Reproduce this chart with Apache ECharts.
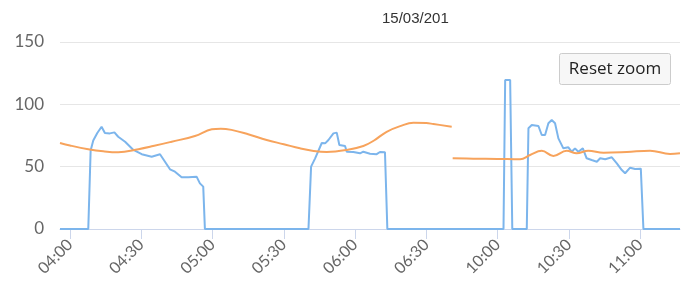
<!DOCTYPE html>
<html><head><meta charset="utf-8">
<script src="https://cdn.jsdelivr.net/npm/echarts@6/dist/echarts.min.js"></script>
<style>html,body{margin:0;padding:0;background:#fff}#c{width:683px;height:289px}</style>
</head><body><div id="c"></div>
<script>
// Title
const chartTitle = '15/03/2016';
// x positions are minutes on the compressed (ordinal) time axis: 0 = 04:00, 180 = 10:00
const tickPositions = [0, 30, 60, 90, 120, 150, 180, 210, 240];
const tickLabels = ['04:00','04:30','05:00','05:30','06:00','06:30','10:00','10:30','11:00'];
const yTicks = [0, 50, 100, 150];

// Blue series
const blueT = [-4.2, 7.7, 8.7, 9.8, 11.5, 13.3, 14.7, 16.8, 18.7, 20.3, 23.2, 26.7, 30.2, 34.4, 37.9, 40, 42.1, 44.2, 47, 49.8, 53.3, 54.7, 56.1, 56.8,
  100.4, 101.5, 103.2, 106, 107.4, 108.8, 110.9, 112.3, 113.4, 115.8, 116.5, 119.3, 122.1, 123.5, 126.3, 129.1, 130.5, 132.6, 133.6,
  182.5, 183.2, 185.3, 186.2, 192.3, 193, 194.4, 197.2, 198.6, 200, 201.4, 202.8, 204.2, 205.6, 207.7, 209.8, 211.2, 212.6, 214, 215.9,
  217.5, 219.6, 221.8, 223.2, 225.3, 228.1, 230.2, 232.3, 233.7, 235.8, 237.9, 240.3, 241.4, 256.8];
const blueV = [0, 0, 63, 71, 77, 82, 77, 76.7, 77.5, 74, 70, 63.4, 60, 58, 60, 54, 47.9, 46, 41.5, 41.5, 42, 36.6, 34, 0,
  0, 50, 56.7, 69, 68.7, 71.4, 76.7, 77.3, 67.4, 66.6, 62, 61.8, 60.7, 62, 60.4, 60, 61.8, 61.5, 0,
  0, 119.5, 119.5, 0, 0, 80.8, 83.4, 82.6, 75.4, 75.4, 84.8, 87.4, 84.8, 72.7, 64.7, 65.5, 62, 64.7, 62, 64.7,
  56.7, 55.3, 54, 56.7, 55.9, 57.5, 52.7, 47.3, 44.7, 49.2, 48.1, 48.4, 0, 0];

// Orange series, two segments (gap between them)
const orangeT1 = [-4.2, 0, 7.7, 14, 20.3, 28.8, 35, 42.8, 52.6, 59.7, 63.5, 68, 75, 82.8, 90, 96.8, 102, 108.1, 116.5, 123.5, 128, 133.3, 139, 144.6, 150, 153, 160.7];
const orangeV1 = [69, 67, 64, 62.3, 61.5, 64, 66.5, 70, 74.6, 80, 80.5, 79.5, 76, 71.4, 68, 64.7, 62.8, 61.8, 63.4, 66.6, 71, 78, 82.5, 85.3, 85, 84.2, 82.1];
const orangeT2 = [161.1, 169.8, 180, 189.5, 193.7, 198.6, 203.5, 209.1, 213.3, 218.2, 224.6, 234.4, 244.2, 252.6, 256.8];
const orangeV2 = [56.7, 56.4, 56.2, 55.9, 59.4, 62.8, 58.6, 62.8, 60.7, 62.8, 61.2, 61.8, 62.8, 60.2, 60.7];

const blueData = blueT.map((t, i) => [t, blueV[i]]);
const orangeData = orangeT1.map((t, i) => [t, orangeV1[i]])
  .concat([[160.9, '-']])
  .concat(orangeT2.map((t, i) => [t, orangeV2[i]]));

const chart = echarts.init(document.getElementById('c'), null, {renderer: 'canvas'});
chart.setOption({
  animation: false,
  backgroundColor: '#ffffff',
  title: {
    text: chartTitle, left: 377, top: 6,
    textStyle: {fontFamily: 'Liberation Sans', fontSize: 15, fontWeight: 'normal', color: '#333333',
      width: 71, overflow: 'truncate', ellipsis: ''}
  },
  grid: {left: 60, right: 3, top: 42, bottom: 60, containLabel: false, outerBoundsMode: 'none'},
  xAxis: {
    type: 'value', min: -4.2, max: 256.8,
    axisLine: {show: true, lineStyle: {color: '#ccd6eb', width: 1}},
    axisTick: {show: true, customValues: tickPositions, length: 10, lineStyle: {color: '#ccd6eb'}},
    axisLabel: {
      customValues: tickPositions, rotate: 45, margin: 13,
      fontFamily: 'Lato', fontSize: 16, color: '#666666',
      formatter: v => { const i = tickPositions.indexOf(v); return i >= 0 ? tickLabels[i] : ''; }
    },
    splitLine: {show: false}
  },
  yAxis: {
    type: 'value', min: 0, max: 150, interval: 50,
    axisLine: {show: false}, axisTick: {show: false},
    axisLabel: {fontFamily: 'Lato', fontSize: 17, color: '#666666', margin: 16, padding: [0, 0, 7, 0]},
    splitLine: {lineStyle: {color: '#e6e6e6', width: 1}}
  },
  series: [
    {type: 'line', data: blueData, showSymbol: false, smooth: false,
      lineStyle: {color: '#7cb5ec', width: 2}, itemStyle: {color: '#7cb5ec'}},
    {type: 'line', data: orangeData, showSymbol: false, smooth: 0.4, connectNulls: false,
      lineStyle: {color: '#f7a35c', width: 2}, itemStyle: {color: '#f7a35c'}}
  ],
  graphic: [{
    type: 'group', left: 559, top: 53,
    children: [
      {type: 'rect', shape: {x: 0, y: 0, width: 111, height: 31, r: 2},
        style: {fill: '#f7f7f7', stroke: '#cccccc', lineWidth: 1}},
      {type: 'text', x: 55.5, y: 15.5,
        style: {text: 'Reset zoom', fontFamily: 'Open Sans', fontSize: 17, fill: '#222222',
          align: 'center', verticalAlign: 'middle'}}
    ]
  }]
});
</script>
</body></html>
